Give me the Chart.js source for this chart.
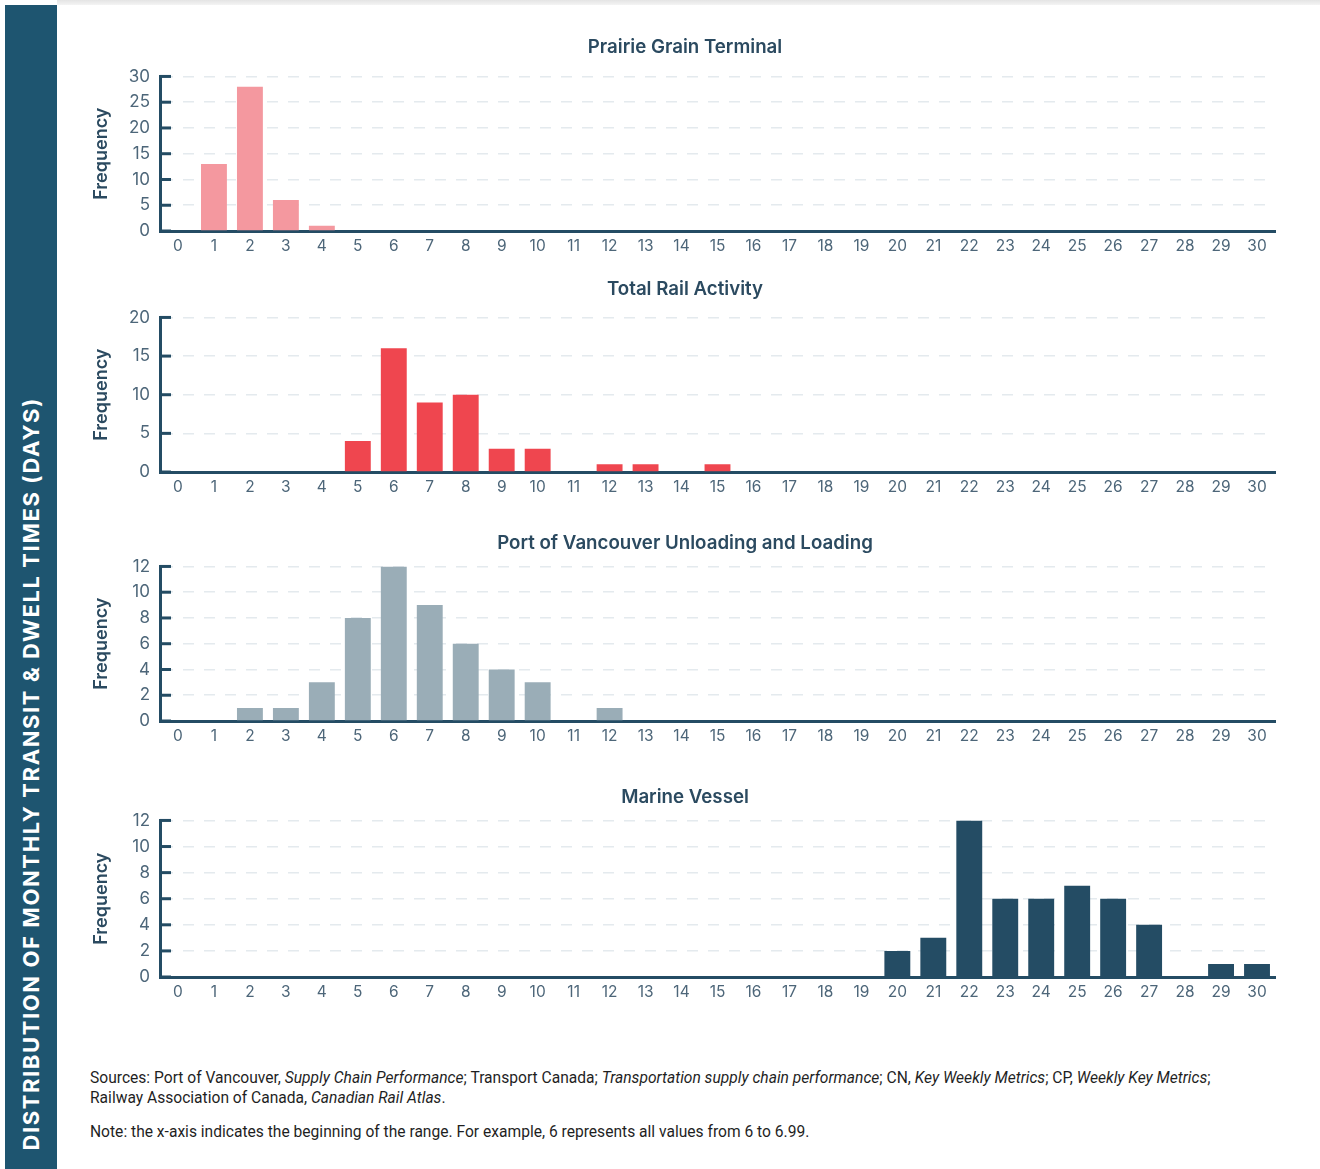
<!DOCTYPE html>
<html>
<head>
<meta charset="utf-8">
<script src="https://cdn.jsdelivr.net/npm/chart.js@4"></script>
<style>
  body { margin: 0; background: #fff; width: 1320px; height: 1169px; position: relative; overflow: hidden; font-family: "Inter", sans-serif; }
  .topbar { position: absolute; left: 57px; top: 0; width: 1263px; height: 5px; background: linear-gradient(#e4e4e4, #f4f4f4); }
  .band { position: absolute; left: 5px; top: 5px; width: 52px; height: 1164px; background: #1e5570; }
  .band span { position: absolute; bottom: 18px; left: 50%; transform: translateX(-50%) rotate(180deg); writing-mode: vertical-rl;
    color: #fff; font: 700 22px "Inter", sans-serif; letter-spacing: 1.6px; white-space: nowrap; }
  .box { position: absolute; left: 60px; }
  .notes { position: absolute; left: 90px; top: 1068px; font: 15.6px "Roboto", sans-serif; color: #1f1f1f; line-height: 20px; }
  .notes p { margin: 0 0 14px 0; }
</style>
</head>
<body>
<div class="topbar"></div>
<div class="band"><span>DISTRIBUTION OF MONTHLY TRANSIT &amp; DWELL TIMES (DAYS)</span></div>

<div class="box" style="top:20px"><canvas id="c1" width="1250" height="241"></canvas></div>
<div class="box" style="top:264px"><canvas id="c2" width="1250" height="238"></canvas></div>
<div class="box" style="top:518px"><canvas id="c3" width="1250" height="233"></canvas></div>
<div class="box" style="top:772px"><canvas id="c4" width="1250" height="235"></canvas></div>

<div class="notes">
  <p>Sources: Port of Vancouver, <i>Supply Chain Performance</i>; Transport Canada; <i>Transportation supply chain performance</i>; CN, <i>Key Weekly Metrics</i>; CP, <i>Weekly Key Metrics</i>;<br>Railway Association of Canada, <i>Canadian Rail Atlas</i>.</p>
  <p>Note: the x-axis indicates the beginning of the range. For example, 6 represents all values from 6 to 6.99.</p>
</div>

<script>
// days (start of each 1-day range)
const days = ["0","1","2","3","4","5","6","7","8","9","10","11","12","13","14","15",
  "16","17","18","19","20","21","22","23","24","25","26","27","28","29","30"];

const prairieGrain = [0,13,28,6,1,0,0,0,0,0,0,0,0,0,0,0,0,0,0,0,0,0,0,0,0,0,0,0,0,0,0];
const totalRail    = [0,0,0,0,0,4,16,9,10,3,3,0,1,1,0,1,0,0,0,0,0,0,0,0,0,0,0,0,0,0,0];
const portVan      = [0,0,1,1,3,8,12,9,6,4,3,0,1,0,0,0,0,0,0,0,0,0,0,0,0,0,0,0,0,0,0];
const marine       = [0,0,0,0,0,0,0,0,0,0,0,0,0,0,0,0,0,0,0,0,2,3,12,6,6,7,6,4,0,1,1];

const axisColor = "#244c64";
const textColor = "#2b4a60";
const tickColor = "#4d6679";

// short ticks drawn inside the plot, on the right of the y axis
const innerTicks = {
  id: "innerTicks",
  afterDraw(chart) {
    const y = chart.scales.y;
    const ctx = chart.ctx;
    const left = chart.chartArea.left;
    ctx.save();
    ctx.strokeStyle = axisColor;
    ctx.lineWidth = 3;
    y.ticks.forEach((t, i) => {
      const py = y.getPixelForTick(i);
      ctx.beginPath();
      ctx.moveTo(left, py);
      ctx.lineTo(left + 11, py);
      ctx.stroke();
    });
    ctx.restore();
  }
};

function makeChart(id, title, values, color, yMax, yStep, padTop, padBottom) {
  new Chart(document.getElementById(id), {
    type: "bar",
    data: {
      labels: days,
      datasets: [{ data: values, backgroundColor: color, barPercentage: 0.72, categoryPercentage: 1 }]
    },
    options: {
      responsive: false,
      animation: false,
      layout: { padding: 0 },
      plugins: {
        legend: { display: false },
        tooltip: { enabled: false },
        title: {
          display: true,
          text: title,
          color: textColor,
          font: { family: "Inter", size: 18.7, weight: "600" },
          padding: { top: padTop, bottom: padBottom }
        }
      },
      scales: {
        x: {
          grid: { display: false, drawTicks: false },
          border: { color: axisColor, width: 3 },
          ticks: { color: tickColor, font: { family: "Inter", size: 15.5 }, padding: 6, maxRotation: 0, autoSkip: false },
          afterFit: (s) => { s.height = 30; }
        },
        y: {
          min: 0,
          max: yMax,
          ticks: { stepSize: yStep, color: tickColor, font: { family: "Inter", size: 17 }, padding: 10 },
          grid: { color: "#e4eaee", lineWidth: 1.5, drawTicks: false },
          border: { color: axisColor, width: 3, dash: [11, 10] },
          title: {
            display: true,
            text: "Frequency",
            color: textColor,
            font: { family: "Inter", size: 18, weight: "600" },
            padding: { top: 31, bottom: 0 }
          },
          afterFit: (s) => { s.width = 100; }
        },
        // empty right-hand strip so the title stays centred on the whole canvas
        pad: {
          type: "linear",
          position: "right",
          grid: { display: false, drawTicks: false },
          border: { display: false },
          ticks: { display: false },
          afterFit: (s) => { s.width = 35; }
        }
      }
    },
    plugins: [innerTicks]
  });
}

makeChart("c1", "Prairie Grain Terminal", prairieGrain, "#f4989f", 30, 5, 16, 18);
makeChart("c2", "Total Rail Activity", totalRail, "#ef464f", 20, 5, 14, 17);
makeChart("c3", "Port of Vancouver Unloading and Loading", portVan, "#9aadb7", 12, 2, 14, 12);
makeChart("c4", "Marine Vessel", marine, "#244c64", 12, 2, 14, 12);
</script>
</body>
</html>
